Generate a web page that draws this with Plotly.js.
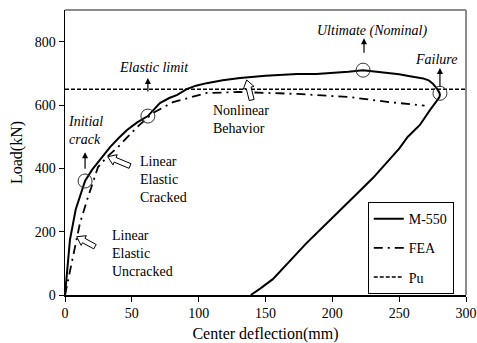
<!DOCTYPE html>
<html><head><meta charset="utf-8">
<script src="https://cdn.plot.ly/plotly-3.0.1.min.js"></script>
<style>html,body{margin:0;padding:0;background:#fff;}#chart{width:477px;height:343px;}</style>
</head><body><div id="chart"></div>
<script>
// M-550 test curve (center deflection mm, load kN)
const m550X = [0, 3.7, 8, 12.7, 15, 20.2, 27, 33.7, 40, 46.4, 54, 62, 71, 78, 84, 88, 91, 98, 106, 118, 131, 150, 173.6, 188, 200.5, 212, 223, 232, 241, 250, 258, 264, 268, 272, 275, 278, 280, 280.5, 280, 278, 273, 265.5, 256.5, 250, 240, 230.5, 218, 205.5, 193, 180.5, 168, 155.5, 146, 139];
const m550Y = [0, 174, 270, 331, 360, 395, 433, 467, 495, 521, 545, 565, 606, 622, 632, 643, 650, 661, 669, 678, 685, 692, 698, 698, 701, 705, 710, 706, 701, 697, 691, 687, 684, 678, 668, 653, 640, 632, 624, 612, 584, 537, 500, 462, 415, 370, 318, 268, 215, 163, 106, 50, 20, 0];
// FEA curve
const feaX = [0, 6, 11.2, 16.5, 21, 24.7, 31.4, 39.6, 53.9, 65.8, 80.8, 106, 131, 173.6, 213, 243, 269];
const feaY = [0, 120, 227, 300, 354, 404, 436, 467, 530, 575, 609, 638, 641, 635, 625, 609, 598];
// Pu line
const puX = [0, 300];
const puY = [650, 650];
// key points (circles)
const keyX = [15, 62, 223, 280.5];
const keyY = [360, 565, 710, 637];
const keyNames = ['Initial crack', 'Elastic limit', 'Ultimate (Nominal)', 'Failure'];
const xTicks = [0, 50, 100, 150, 200, 250, 300];
const yTicks = [0, 200, 400, 600, 800];

const W = 477, H = 343, ML = 65, MR = 11, MT = 10, MB = 48;
const PW = W - ML - MR, PH = H - MT - MB;
function px2paper(px, py) { return [(px - ML) / PW, (H - MB - py) / PH]; }
function hollowArrow(tip, tail) {
  const dx = tip[0] - tail[0], dy = tip[1] - tail[1];
  const L = Math.hypot(dx, dy), ux = dx / L, uy = dy / L, nx = -uy, ny = ux;
  const h = 8, hw = 5.5, sw = 2.5;
  const bx = tip[0] - ux * h, by = tip[1] - uy * h;
  const pts = [tip, [bx + nx * hw, by + ny * hw], [bx + nx * sw, by + ny * sw], [tail[0] + nx * sw, tail[1] + ny * sw],
    [tail[0] - nx * sw, tail[1] - ny * sw], [bx - nx * sw, by - ny * sw], [bx - nx * hw, by - ny * hw]];
  const p = pts.map(q => px2paper(q[0], q[1]));
  return {type: 'path', xref: 'paper', yref: 'paper', fillcolor: '#fff', line: {color: '#000', width: 1},
    path: 'M' + p.map(q => q[0].toFixed(4) + ',' + q[1].toFixed(4)).join(' L') + ' Z'};
}

const font = 'Liberation Serif';
const traces = [
  {x: m550X, y: m550Y, mode: 'lines', name: 'M-550', legendgroup: 'a', line: {color: '#000', width: 2}},
  {x: feaX, y: feaY, mode: 'lines', name: 'FEA', legendgroup: 'b', line: {color: '#000', width: 1.8, dash: '9px,5px,2px,5px'}},
  {x: puX, y: puY, mode: 'lines', name: 'Pu', legendgroup: 'c', line: {color: '#000', width: 1.5, dash: '4px,2px'}},
  {x: keyX, y: keyY, text: keyNames, mode: 'markers', showlegend: false, hoverinfo: 'text',
   marker: {symbol: 'circle-open', size: 14, color: '#333', line: {width: 1, color: '#333'}}}
];

const af = {family: font, size: 14, color: '#000'};
const annotations = [
  {x: 230, y: 835, text: '<i>Ultimate (Nominal)</i>', showarrow: false, font: af},
  {x: 223.7, y: 811, ax: 0, ay: 16, text: '', showarrow: true, arrowhead: 2, arrowsize: 1, arrowwidth: 1.2, arrowcolor: '#000'},
  {x: 277.5, y: 745, text: '<i>Failure</i>', showarrow: false, font: af},
  {x: 280.5, y: 717, ax: 0, ay: 20, text: '', showarrow: true, arrowhead: 2, arrowsize: 1, arrowwidth: 1.2, arrowcolor: '#000'},
  {x: 66.6, y: 720, text: '<i>Elastic limit</i>', showarrow: false, font: af},
  {x: 62, y: 685, ax: 0, ay: 15, text: '', showarrow: true, arrowhead: 2, arrowsize: 1, arrowwidth: 1.2, arrowcolor: '#000'},
  {x: 15.7, y: 518, text: '<i>Initial</i><br><i>crack</i>', showarrow: false, font: af, align: 'left'},
  {x: 15, y: 451, ax: 0, ay: 18, text: '', showarrow: true, arrowhead: 2, arrowsize: 1, arrowwidth: 1.2, arrowcolor: '#000'},
  {x: 54.6, y: 366, xanchor: 'left', text: 'Linear<br>Elastic<br>Cracked', showarrow: false, font: af, align: 'left'},
  {x: 33.7, y: 131, xanchor: 'left', text: 'Linear<br>Elastic<br>Uncracked', showarrow: false, font: af, align: 'left'},
  {x: 109.2, y: 553, xanchor: 'left', text: 'Nonlinear<br>Behavior', showarrow: false, font: af, align: 'left'}
];

const shapes = [
  {type: 'line', xref: 'paper', yref: 'paper', x0: 0, x1: 1, y0: 1, y1: 1, line: {color: '#8c8c8c', width: 2}},
  {type: 'line', xref: 'paper', yref: 'paper', x0: 1, x1: 1, y0: 0, y1: 1, line: {color: '#8c8c8c', width: 2}},
  hollowArrow([76.7, 236.7], [95, 246.7]),
  hollowArrow([107.7, 156.7], [130, 166]),
  hollowArrow([246.7, 80], [251.7, 100])
];

const layout = {
  width: W, height: H, margin: {l: ML, r: MR, t: MT, b: MB},
  paper_bgcolor: '#fff', plot_bgcolor: '#fff',
  font: {family: font, size: 14, color: '#000'},
  showlegend: true,
  legend: {x: 0.755, y: 0.326, xanchor: 'left', yanchor: 'top', bgcolor: '#fff', bordercolor: '#000', borderwidth: 1,
    font: {family: font, size: 14}, tracegroupgap: 8},
  xaxis: {range: [0, 300], tickvals: xTicks, ticks: 'outside', ticklen: 5, tickcolor: '#000', showgrid: false, zeroline: false,
    showline: true, linecolor: '#000', linewidth: 1.5, title: {text: 'Center deflection(mm)', font: {family: font, size: 16}, standoff: 8},
    tickfont: {family: font, size: 14}},
  yaxis: {range: [0, 900], tickvals: yTicks, ticks: 'outside', ticklen: 5, tickcolor: '#000', showgrid: false, zeroline: false,
    showline: true, linecolor: '#000', linewidth: 1.5, title: {text: 'Load(kN)', font: {family: font, size: 16}, standoff: 8},
    tickfont: {family: font, size: 14}},
  annotations: annotations, shapes: shapes
};
Plotly.newPlot('chart', traces, layout, {displayModeBar: false, staticPlot: true});
</script></body></html>
